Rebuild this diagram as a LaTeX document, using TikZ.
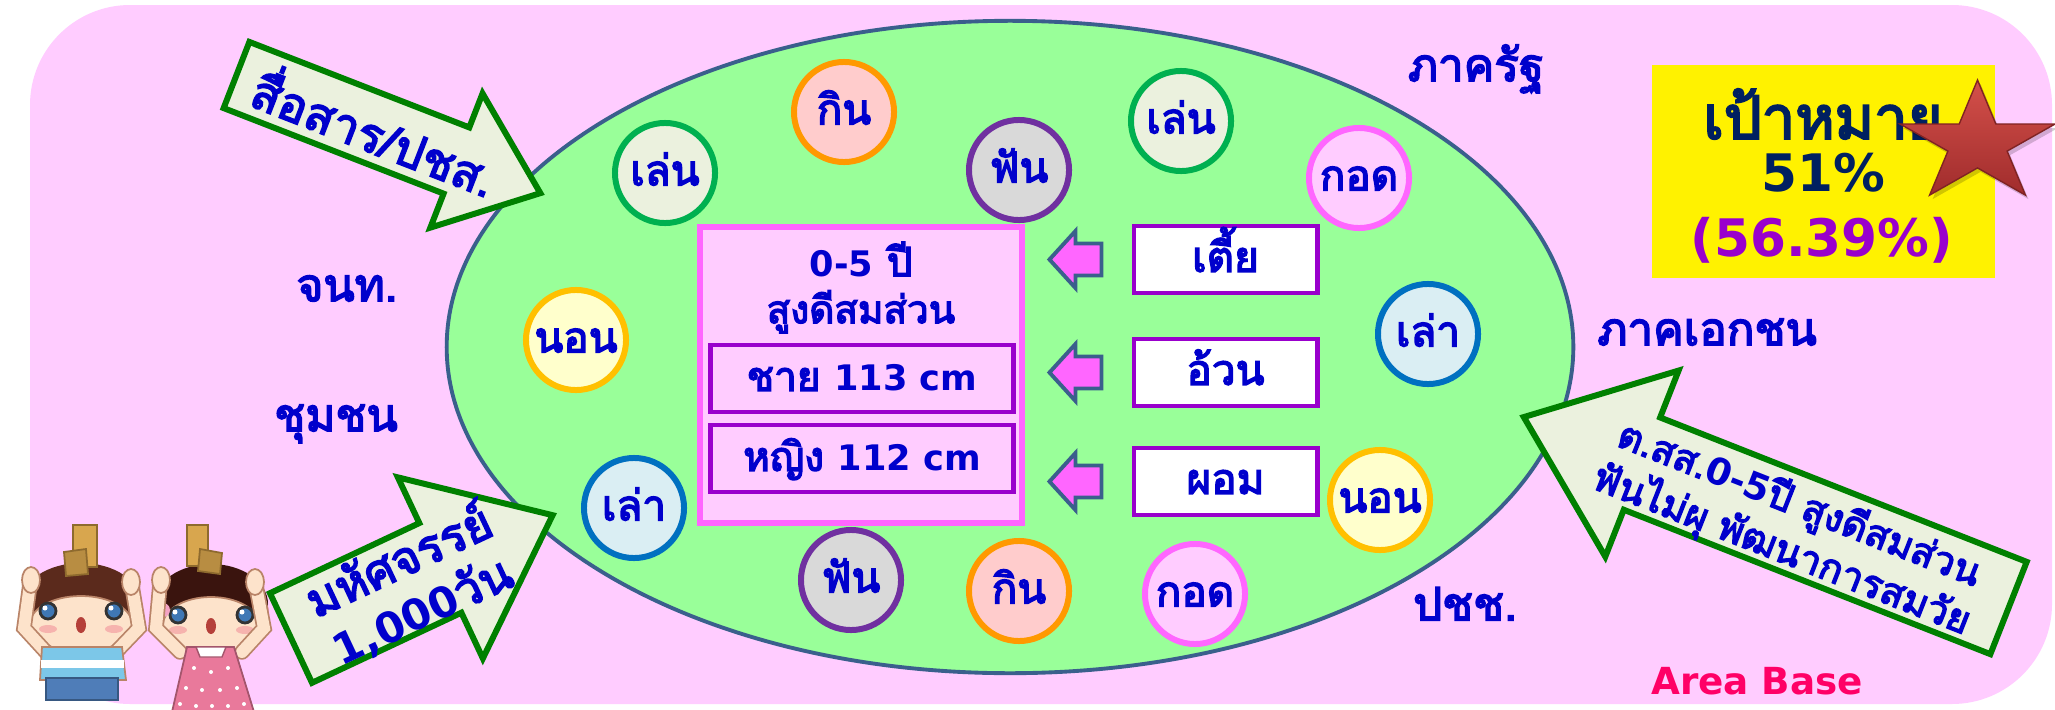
\documentclass[tikz,border=0pt]{standalone}
\usepackage{fontspec}
\setmainfont{Loma}[Script=Thai, BoldFont=Loma, BoldFeatures={FakeBold=3.5}]
\newfontfamily\latinpart{DejaVu Sans}
\usetikzlibrary{shapes.geometric,calc}

\definecolor{pagepink}{HTML}{FFCCFF}
\definecolor{fieldgreen}{HTML}{99FF99}
\definecolor{rimblue}{HTML}{3A5F8C}
\definecolor{txtblue}{HTML}{0000CC}
\definecolor{goalnavy}{HTML}{002060}
\definecolor{goalpurple}{HTML}{9900CC}
\definecolor{boxpurple}{HTML}{9900CC}
\definecolor{arrowgreen}{HTML}{008000}
\definecolor{arrowfill}{HTML}{EBF1DE}
\definecolor{hotpink}{HTML}{FF66FF}
\definecolor{areared}{HTML}{FF0066}
\definecolor{eatline}{HTML}{FF9900}\definecolor{eatfill}{HTML}{FFCCCC}
\definecolor{playline}{HTML}{00B050}\definecolor{playfill}{HTML}{EBF1DE}
\definecolor{teethline}{HTML}{7030A0}\definecolor{teethfill}{HTML}{D9D9D9}
\definecolor{hugline}{HTML}{FF66FF}\definecolor{hugfill}{HTML}{FFCCFF}
\definecolor{tellline}{HTML}{0070C0}\definecolor{tellfill}{HTML}{DAEEF3}
\definecolor{sleepline}{HTML}{FFC000}\definecolor{sleepfill}{HTML}{FFFFCC}
\definecolor{starhi}{HTML}{D4504A}
\definecolor{starlo}{HTML}{A02C2C}
% kids
\definecolor{skin}{HTML}{FDE3CB}
\definecolor{skinline}{HTML}{B98468}
\definecolor{hairboy}{HTML}{5B2A1C}
\definecolor{hairgirl}{HTML}{3A140E}
\definecolor{wood}{HTML}{D8A64E}
\definecolor{woodline}{HTML}{8E6A2E}
\definecolor{eyeblue}{HTML}{3F78B5}
\definecolor{shirtblue}{HTML}{7CC7E8}
\definecolor{denim}{HTML}{4F7DB8}
\definecolor{dresspink}{HTML}{E9799B}
\definecolor{bowpink}{HTML}{F4A3C4}
\definecolor{mouthred}{HTML}{B5403A}
\definecolor{blush}{HTML}{F6B3AE}

% block arrow: style, tail centre, angle, length, half shaft, half head, head length
\newcommand{\blockarrow}[7]{%
  \begin{scope}[shift={#2},rotate=#3]
    \draw[#1] (0,-#5) -- ({#4-#7},-#5) -- ({#4-#7},-#6) -- (#4,0)
      -- ({#4-#7},#6) -- ({#4-#7},#5) -- (0,#5) -- cycle;
  \end{scope}}
% latin run inside thai text
\newcommand{\lat}[2][11]{{\latinpart\fontsize{#1}{#1}\selectfont #2}}

\tikzset{
  spot/.style 2 args={circle, draw=#1, fill=#2, line width=1.7pt,
    minimum size=1cm, inner sep=0pt, text height=7pt, text depth=0pt,
    font=\bfseries\fontsize{12}{14}\selectfont},
  eatspot/.style={spot={eatline}{eatfill}},
  playspot/.style={spot={playline}{playfill}},
  teethspot/.style={spot={teethline}{teethfill}},
  hugspot/.style={spot={hugline}{hugfill}},
  tellspot/.style={spot={tellline}{tellfill}},
  sleepspot/.style={spot={sleepline}{sleepfill}},
  tag/.style={font=\bfseries\fontsize{13}{15}\selectfont, text height=7.5pt, text depth=0pt},
  databox/.style={draw=boxpurple, line width=1.4pt, minimum height=0.67cm,
    inner sep=0pt, text height=7pt, text depth=0pt, font=\bfseries\fontsize{12}{14}\selectfont},
  fatarrow/.style={draw=arrowgreen, fill=arrowfill, line width=1.7pt},
  pinkarrow/.style={draw=rimblue, fill=hotpink, line width=1.1pt},
  arrowtext/.style={font=\bfseries\fontsize{13.5}{16}\selectfont, align=center},
}

\begin{document}
\begin{tikzpicture}[x=0.01cm, y=-0.01cm, every node/.append style={text=txtblue}]
% page
\path[use as bounding box] (0,0) rectangle (2055,709);
\clip (0,0) rectangle (2055,709);
\fill[white] (0,0) rectangle (2055,709);
\fill[pagepink, rounded corners=1cm] (30,5) rectangle (2052,704);

% boy
\fill[hairboy] (81,603) ellipse [x radius=60, y radius=40];
\filldraw[fill=wood, draw=woodline, line width=0.5pt] (73,525) rectangle (97,567);
\filldraw[fill=wood!85!black, draw=woodline, line width=0.5pt] (64,552) -- (86,549) -- (88,574) -- (66,576) -- cycle;
\filldraw[fill=skin, draw=skinline, line width=0.5pt] (81,624) ellipse [x radius=51, y radius=28];
\foreach \ex in {48,114} {
  \fill[blush] (\ex,629) ellipse [x radius=9, y radius=4];
  \filldraw[fill=eyeblue, draw=black!80, line width=0.8pt] (\ex,611) circle [radius=8];
  \fill[white] (\ex-3,608) circle [radius=2.5];
}
\fill[mouthred] (81,625) ellipse [x radius=5, y radius=8];
\draw[draw=skinline, double=skin, double distance=3.4pt, line width=0.5pt, line cap=round] (30,584) -- (24,628) -- (46,652);
\draw[draw=skinline, double=skin, double distance=3.4pt, line width=0.5pt, line cap=round] (132,586) -- (139,628) -- (116,652);
\filldraw[fill=skin, draw=skinline, line width=0.5pt] (31,580) ellipse [x radius=9, y radius=13];
\filldraw[fill=skin, draw=skinline, line width=0.5pt] (131,582) ellipse [x radius=9, y radius=13];
\filldraw[fill=shirtblue, draw=skinline, line width=0.5pt] (42,647) -- (122,647) -- (126,680) -- (40,680) -- cycle;
\draw[white, line width=2.5pt] (41,664) -- (124,664);
\filldraw[fill=denim, draw=denim!70!black, line width=0.5pt] (46,678) rectangle (118,700);

% girl
\fill[hairgirl] (211,604) ellipse [x radius=57, y radius=40];
\filldraw[fill=wood, draw=woodline, line width=0.5pt] (187,525) rectangle (208,566);
\filldraw[fill=wood!85!black, draw=woodline, line width=0.5pt] (200,549) -- (222,553) -- (220,574) -- (198,571) -- cycle;
\filldraw[fill=skin, draw=skinline, line width=0.5pt] (211,625) ellipse [x radius=48, y radius=28];
\foreach \ex in {178,245} {
  \fill[blush] (\ex,630) ellipse [x radius=9, y radius=4];
  \filldraw[fill=eyeblue, draw=black!80, line width=0.8pt] (\ex,615) circle [radius=8];
  \fill[white] (\ex-3,612) circle [radius=2.5];
}
\fill[bowpink] (163,610) circle [radius=7];
\fill[bowpink] (262,610) circle [radius=7];
\fill[mouthred] (211,626) ellipse [x radius=5, y radius=8];
\draw[draw=skinline, double=skin, double distance=3.4pt, line width=0.5pt, line cap=round] (160,584) -- (156,628) -- (180,652);
\draw[draw=skinline, double=skin, double distance=3.4pt, line width=0.5pt, line cap=round] (256,586) -- (264,628) -- (242,652);
\filldraw[fill=skin, draw=skinline, line width=0.5pt] (161,580) ellipse [x radius=9, y radius=13];
\filldraw[fill=skin, draw=skinline, line width=0.5pt] (255,582) ellipse [x radius=9, y radius=13];
\filldraw[fill=dresspink, draw=dresspink!70!black, line width=0.5pt] (187,647) -- (234,647) -- (254,712) -- (172,712) -- cycle;
\filldraw[fill=white, draw=dresspink!70!black, line width=0.4pt] (196,647) -- (226,647) -- (222,657) -- (200,657) -- cycle;
\foreach \dx/\dy in {194/668,211/672,228/668,186/688,202/690,220/690,237/688,180/704,196/706,212/706,228/706,244/704}
  \fill[white] (\dx,\dy) circle [radius=2];

% the field of the first 1000 days
\node[ellipse, draw=rimblue, fill=fieldgreen, line width=1.1pt, minimum width=11.26cm,
  minimum height=6.52cm, inner sep=0pt] (field) at (1010,347) {};

% arrows coming in from outside
\blockarrow{fatarrow}{(236.5,75)}{-21.25}{326}{35.5}{72}{90}
\blockarrow{fatarrow}{(291,638)}{25.15}{289}{49.5}{100}{124}
\blockarrow{fatarrow}{(2008.5,608)}{158.5}{521}{49.6}{100}{127}
\node[arrowtext, rotate=-21.25] (mediatxt) at (376,129) {สื่อสาร/ปชส.};
\node[arrowtext, rotate=25.15, font=\bfseries\fontsize{13.5}{15.5}\selectfont] (miracletxt) at (410,585)
  {มหัศจรรย์\\\lat[12]{1,000}วัน};
\node[arrowtext, rotate=-21.5, font=\bfseries\fontsize{11}{11.5}\selectfont] (kpitxt) at (1790,528)
  {ต.สส.\lat[10.5]{0-5}ปี สูงดีสมส่วน\\ฟันไม่ผุ พัฒนาการสมวัย};

% daily things around the child
\foreach \nm/\x/\y/\txt/\kind in {
  eattop/844/112/กิน/eatspot, playleft/665/173/เล่น/playspot, teethtop/1019/170/ฟัน/teethspot,
  playright/1181/121/เล่น/playspot, hugtop/1359/178/กอด/hugspot, tellright/1428/334/เล่า/tellspot,
  sleepleft/576/340/นอน/sleepspot, tellleft/634/508/เล่า/tellspot, sleepright/1380/500/นอน/sleepspot,
  teethlow/851/580/ฟัน/teethspot, eatlow/1019/591/กิน/eatspot, huglow/1195/594/กอด/hugspot}
  \node[\kind] (\nm) at (\x,\y) {\txt};

% height target box
\node[draw=hotpink, fill=pagepink, line width=1.7pt, minimum width=3.22cm,
  minimum height=2.96cm] (core) at (861,375) {};
\node[tag, font=\bfseries\fontsize{11.5}{14}\selectfont] (agetxt) at (861,263) {\lat[10]{0-5} ปี};
\node[tag, font=\bfseries\fontsize{11}{14}\selectfont] (fittxt) at (861,310) {สูงดีสมส่วน};
\node[databox, fill=pagepink, minimum width=3.02cm, font=\bfseries\fontsize{11.5}{14}\selectfont] (boys) at (862,378.5) {ชาย \lat[10]{113 cm}};
\node[databox, fill=pagepink, minimum width=3.02cm, font=\bfseries\fontsize{11.5}{14}\selectfont] (girls) at (862,458.5) {หญิง \lat[10]{112 cm}};

% problems pushing in
\node[databox, fill=white, minimum width=1.83cm] (shortbox) at (1225.5,259.5) {เตี้ย};
\node[databox, fill=white, minimum width=1.83cm] (fatbox) at (1225.5,372.5) {อ้วน};
\node[databox, fill=white, minimum width=1.83cm] (thinbox) at (1225.5,481.5) {ผอม};
\foreach \b in {shortbox,fatbox,thinbox} {
  \blockarrow{pinkarrow}{([xshift=-0.3cm]\b.west)}{180}{52}{16}{28.5}{26}
}

% partners
\node[tag] (govt) at (1476,68) {ภาครัฐ};
\node[tag] (staff) at (347,288) {จนท.};
\node[tag] (commu) at (336,418) {ชุมชน};
\node[tag] (private) at (1707,332) {ภาคเอกชน};
\node[tag] (people) at (1465,607) {ปชช.};
\node[text=areared, font=\bfseries\latinpart\fontsize{10.6}{12}\selectfont] (area) at (1757,681) {Area Base};

% goal
\node[fill=yellow, minimum width=3.43cm, minimum height=2.13cm] (goal) at (1823.5,171.5) {};
\node[font=\bfseries\fontsize{17}{20}\selectfont, text=goalnavy] (goaltxt) at (1823,114) {เป้าหมาย};
\node[font=\bfseries\latinpart\fontsize{14.7}{17}\selectfont, text=goalnavy] (goalpct) at (1823,173) {51\%};
\node[font=\bfseries\latinpart\fontsize{14.7}{17}\selectfont, text=goalpurple] (actualpct) at (1822,240) {(56.39\%)};
\fill[black, opacity=0.18] (1980.5,84) -- (1962.2,128) -- (1903,128) -- (1950.9,155.1) -- (1932.6,199.1)
  -- (1980.5,171.9) -- (2028.4,199.1) -- (2010.1,155.1) -- (2058,128) -- (1998.8,128) -- cycle;
\shade[top color=starhi, bottom color=starlo, draw=starlo!80!black, line width=0.4pt]
  (1977.5,80) -- (1959.2,124) -- (1900,124) -- (1947.9,151.1) -- (1929.6,195.1)
  -- (1977.5,167.9) -- (2025.4,195.1) -- (2007.1,151.1) -- (2055,124) -- (1995.8,124) -- cycle;
\end{tikzpicture}
\end{document}
